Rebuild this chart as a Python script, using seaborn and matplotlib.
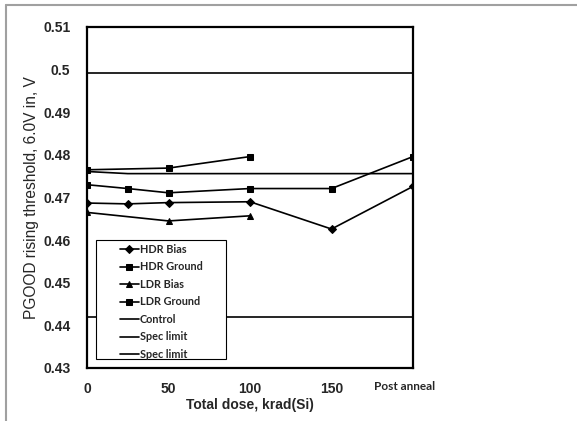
import pandas as pd
import matplotlib
matplotlib.use("Agg")
import matplotlib.pyplot as plt
from matplotlib.lines import Line2D
from matplotlib.patches import Rectangle
import seaborn as sns

# Datos
dosis_hdr = [0, 25, 50, 100, 150, 200]
hdr_bias = [0.4687, 0.4685, 0.4688, 0.4690, 0.4626, 0.4726]
hdr_ground = [0.4730, 0.4721, 0.4711, 0.4721, 0.4721, 0.4796]

dosis_ldr = [0, 50, 100]
ldr_bias = [0.4665, 0.4645, 0.4657]
ldr_ground = [0.4765, 0.4769, 0.4796]

dosis_control = [0, 25, 200]
control = [0.4761, 0.4756, 0.4756]

spec_alto = 0.4992
spec_bajo = 0.4420

x_ticks = [0, 50, 100, 150, 200]
x_labels = ["0", "50", "100", "150", ""]
y_ticks = [0.43, 0.44, 0.45, 0.46, 0.47, 0.48, 0.49, 0.50, 0.51]
y_labels = ["0.43", "0.44", "0.45", "0.46", "0.47", "0.48", "0.49", "0.5", "0.51"]

sns.set_style("white")
plt.rcParams["font.family"] = ["Liberation Sans", "DejaVu Sans"]

fig = plt.figure(figsize=(5.77, 4.21), dpi=100)
ax = fig.add_axes([0.1508, 0.1259, 0.565, 0.81])

# borde gris de la figura (arriba e izquierda)
fig.add_artist(Line2D([6 / 577, 1], [1 - 5 / 421, 1 - 5 / 421], color="#a0a0a0", lw=1.5))
fig.add_artist(Line2D([6 / 577, 6 / 577], [0, 1 - 5 / 421], color="#a0a0a0", lw=1.5))

df_hdr = pd.DataFrame({"dosis": dosis_hdr, "bias": hdr_bias, "ground": hdr_ground})
df_ldr = pd.DataFrame({"dosis": dosis_ldr, "bias": ldr_bias, "ground": ldr_ground})

lw = 1.2
sns.lineplot(data=df_hdr, x="dosis", y="bias", ax=ax, color="black", lw=lw,
             marker="D", markersize=3.6, markeredgecolor="black", label="HDR Bias")
sns.lineplot(data=df_hdr, x="dosis", y="ground", ax=ax, color="black", lw=lw,
             marker="s", markersize=4.8, markeredgecolor="black", label="HDR Ground")
sns.lineplot(data=df_ldr, x="dosis", y="bias", ax=ax, color="black", lw=lw,
             marker="^", markersize=5, markeredgecolor="black", label="LDR Bias")
sns.lineplot(data=df_ldr, x="dosis", y="ground", ax=ax, color="black", lw=lw,
             marker="s", markersize=4.8, markeredgecolor="black", label="LDR Ground")
sns.lineplot(x=dosis_control, y=control, ax=ax, color="black", lw=lw, label="Control")
ax.plot([0, 200], [spec_alto, spec_alto], color="black", lw=lw, label="Spec limit")
ax.plot([0, 200], [spec_bajo, spec_bajo], color="black", lw=lw, label="Spec limit")

ax.set_xlim(0, 200)
ax.set_ylim(0.43, 0.51)
ax.set_xticks(x_ticks)
ax.set_xticklabels(x_labels, fontsize=10, fontweight="bold")
ax.set_yticks(y_ticks)
ax.set_yticklabels(y_labels, fontsize=10, fontweight="bold")
ax.text(195, -0.053, "Post anneal", transform=ax.get_xaxis_transform(),
        ha="center", va="center", fontsize=8.5, fontweight="bold",
        family=["Lato", "DejaVu Sans"])

ax.tick_params(direction="in", length=4, width=1, color="black")
ax.tick_params(axis="y", pad=12)
ax.tick_params(axis="x", pad=10)
for s in ax.spines.values():
    s.set_color("black")
    s.set_linewidth(1.6)

ax.set_xlabel("Total dose, krad(Si)", fontsize=10, fontweight="bold")
ax.set_ylabel("PGOOD rising threshold, 6.0V in, V", fontsize=11.2)
ax.xaxis.set_label_coords(0.5, -0.1085)
ax.yaxis.set_label_coords(-0.169, 0.5)
ax.xaxis.label.set_va("center")
ax.yaxis.label.set_va("center")

# caja de la leyenda
ax.add_patch(Rectangle((0.0276, 0.0264), 0.399, 0.349, transform=ax.transAxes,
                       facecolor="white", edgecolor="black", lw=0.8, zorder=4))
leg = ax.legend(loc="upper left", bbox_to_anchor=(0.101, 0.364), frameon=False,
                prop={"family": ["Lato", "DejaVu Sans"], "weight": "bold", "size": 7.8},
                handlelength=1.75, handletextpad=0.1, labelspacing=0.6,
                borderpad=0, borderaxespad=0)
leg.set_zorder(5)

fig.savefig("out.png", dpi=100)
